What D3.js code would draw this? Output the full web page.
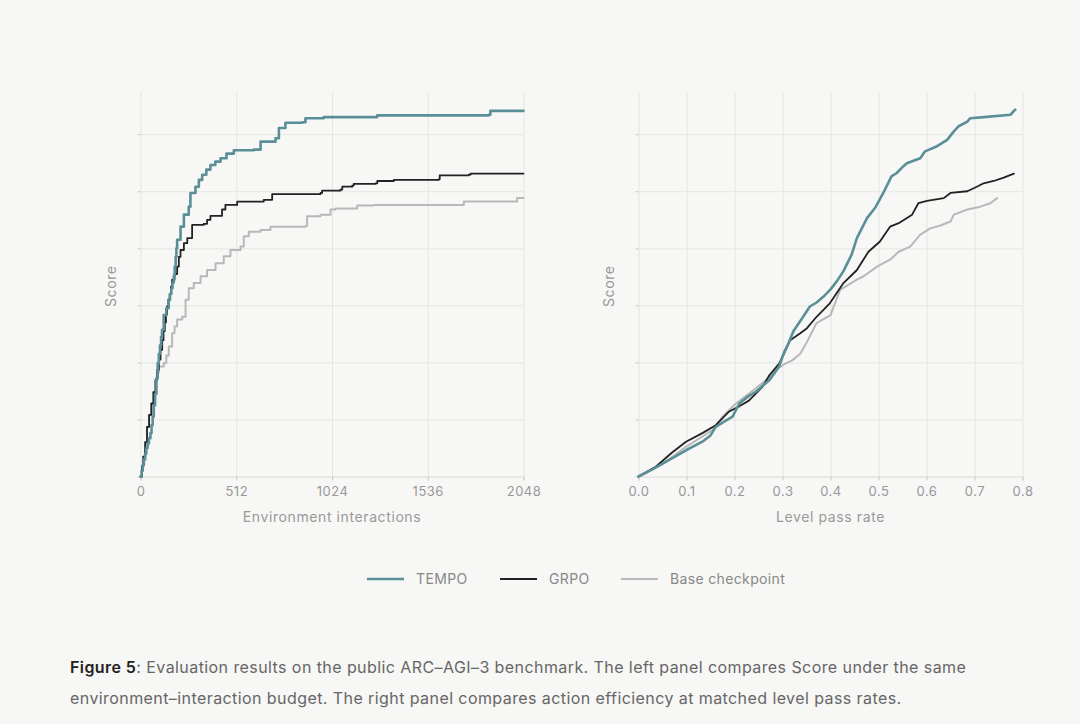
<!DOCTYPE html>
<html>
<head>
<meta charset="utf-8">
<script src="https://cdn.jsdelivr.net/npm/d3@7"></script>
<style>
  html, body { margin: 0; padding: 0; background: #f7f7f5; }
  svg { display: block; font-family: Inter, "Noto Sans", sans-serif; }
</style>
</head>
<body>
<div id="chart"></div>
<script>
// series names + colours for the legend
const seriesNames = ['TEMPO', 'GRPO', 'Base checkpoint'];
const seriesColors = ['#5b8f98', '#222222', '#b8b8b8'];
const seriesWidths = [2.6, 1.8, 2.0];

// left panel: [environment interactions, score]
const tempoBudget = [[0,0],[6,0.1],[12,0.2],[18,0.3],[25,0.4],[31,0.5],[38,0.58],[45,0.67],[53,0.76],[59,0.9],[65,1.05],[71,1.25],[78,1.45],[85,1.72],[92,1.99],[98,2.15],[104,2.3],[110,2.45],[115,2.57],[124,2.83],[138,2.95],[151,3.1],[158,3.2],[165,3.3],[171,3.4],[178,3.51],[183,3.68],[188,3.85],[192,4.0],[196,4.15],[214,4.38],[232,4.59],[258,4.73],[267,4.97],[294,5.08],[312,5.2],[330,5.29],[352,5.38],[374,5.46],[400,5.52],[428,5.58],[460,5.66],[499,5.72],[606,5.73],[642,5.87],[722,5.93],[740,6.11],[775,6.2],[865,6.21],[882,6.28],[980,6.3],[1266,6.33],[1862,6.34],[1871,6.41],[2048,6.41]];
const grpoBudget = [[0,0],[8,0.18],[15,0.35],[25,0.6],[35,0.87],[46,1.08],[58,1.28],[69,1.48],[80,1.69],[89,1.87],[98,2.05],[107,2.22],[116,2.39],[123,2.55],[130,2.7],[136,2.84],[142,2.98],[149,3.1],[156,3.2],[163,3.33],[169,3.45],[182,3.55],[196,3.68],[205,3.85],[214,3.97],[232,4.09],[250,4.18],[276,4.41],[338,4.43],[356,4.5],[374,4.57],[436,4.68],[454,4.76],[517,4.82],[659,4.85],[704,4.95],[963,4.97],[971,5.01],[1069,5.03],[1079,5.08],[1132,5.1],[1140,5.13],[1257,5.14],[1266,5.18],[1355,5.2],[1595,5.21],[1600,5.28],[1755,5.29],[1765,5.31],[2048,5.31]];
const baseBudget = [[0,0],[8,0.18],[15,0.35],[25,0.6],[35,0.87],[46,1.08],[58,1.28],[69,1.48],[80,1.69],[89,1.82],[98,1.93],[124,1.99],[138,2.12],[151,2.28],[169,2.51],[182,2.63],[196,2.75],[223,2.8],[241,3.1],[258,3.3],[285,3.39],[321,3.51],[356,3.62],[401,3.74],[445,3.86],[481,3.97],[535,4.03],[552,4.21],[579,4.29],[642,4.32],[695,4.38],[882,4.39],[891,4.56],[963,4.59],[1016,4.68],[1043,4.7],[1159,4.75],[1248,4.76],[1711,4.76],[1729,4.82],[2005,4.82],[2014,4.88],[2048,4.88]];

// right panel: [level pass rate, score]
const tempoRate = [[0,0],[0.03,0.13],[0.064,0.29],[0.099,0.46],[0.133,0.61],[0.15,0.72],[0.161,0.87],[0.18,0.97],[0.196,1.05],[0.21,1.28],[0.228,1.4],[0.245,1.49],[0.26,1.6],[0.273,1.69],[0.293,1.93],[0.302,2.15],[0.313,2.35],[0.323,2.55],[0.343,2.8],[0.357,2.98],[0.371,3.05],[0.385,3.15],[0.4,3.28],[0.413,3.42],[0.427,3.6],[0.444,3.89],[0.455,4.18],[0.476,4.53],[0.493,4.71],[0.51,4.97],[0.527,5.26],[0.538,5.32],[0.552,5.44],[0.559,5.49],[0.587,5.58],[0.597,5.7],[0.622,5.79],[0.643,5.9],[0.657,6.05],[0.667,6.14],[0.685,6.22],[0.691,6.28],[0.72,6.3],[0.775,6.34],[0.782,6.41],[0.785,6.43]];
const grpoRate = [[0,0],[0.036,0.17],[0.07,0.42],[0.099,0.61],[0.133,0.76],[0.161,0.9],[0.189,1.14],[0.21,1.23],[0.23,1.33],[0.259,1.58],[0.273,1.78],[0.293,1.98],[0.302,2.13],[0.316,2.39],[0.337,2.51],[0.351,2.6],[0.371,2.8],[0.399,3.04],[0.427,3.39],[0.455,3.62],[0.479,3.94],[0.503,4.12],[0.524,4.38],[0.542,4.44],[0.57,4.59],[0.583,4.79],[0.601,4.83],[0.636,4.88],[0.65,4.97],[0.685,5.0],[0.705,5.08],[0.719,5.14],[0.74,5.18],[0.761,5.24],[0.782,5.31]];
const baseRate = [[0,0],[0.05,0.22],[0.099,0.52],[0.155,0.82],[0.175,1.05],[0.203,1.28],[0.231,1.46],[0.266,1.69],[0.286,1.87],[0.302,1.96],[0.321,2.04],[0.337,2.15],[0.351,2.36],[0.371,2.69],[0.4,2.83],[0.42,3.27],[0.455,3.45],[0.469,3.51],[0.497,3.68],[0.524,3.8],[0.542,3.94],[0.566,4.03],[0.587,4.24],[0.608,4.35],[0.629,4.4],[0.65,4.47],[0.657,4.59],[0.685,4.68],[0.712,4.73],[0.733,4.79],[0.747,4.88]];

// ticks
const budgetTicks = [0, 512, 1024, 1536, 2048];
const rateTicks = [0, 0.1, 0.2, 0.3, 0.4, 0.5, 0.6, 0.7, 0.8];
const scoreTicks = [0, 1, 2, 3, 4, 5, 6];

const width = 1080;
const height = 724;

const svg = d3.select('#chart')
  .append('svg')
  .attr('width', width)
  .attr('height', height);

svg.append('rect').attr('width', width).attr('height', height).attr('fill', '#f7f7f5');

const plotTop = 92;
const plotBottom = 476.5;

const yScale = d3.scaleLinear().domain([0, 6.74]).range([plotBottom, plotTop]);

function drawPanel(opts) {
  const { left, right, xDomain, xTicks, xFormat, xLabel, series, curve } = opts;
  const xScale = d3.scaleLinear().domain(xDomain).range([left, right]);
  const g = svg.append('g');

  // vertical gridlines
  const xGrid = g.append('g')
    .attr('transform', `translate(0, ${plotBottom})`)
    .call(d3.axisBottom(xScale).tickValues(xTicks).tickSizeInner(-(plotBottom - plotTop)).tickSizeOuter(0).tickFormat(''));
  xGrid.select('.domain').remove();
  xGrid.selectAll('line').attr('stroke', '#e5e5e3');

  // horizontal gridlines
  const yGrid = g.append('g')
    .attr('transform', `translate(${left}, 0)`)
    .call(d3.axisLeft(yScale).tickValues(scoreTicks).tickSizeInner(-(right - left)).tickSizeOuter(0).tickFormat(''));
  yGrid.select('.domain').remove();
  yGrid.selectAll('line').attr('stroke', '#e5e5e3');

  // small tick marks on the score axis, no labels
  const yTickMarks = g.append('g')
    .attr('transform', `translate(${left}, 0)`)
    .call(d3.axisLeft(yScale).tickValues(scoreTicks).tickSize(3).tickFormat(''));
  yTickMarks.select('.domain').remove();
  yTickMarks.selectAll('line').attr('stroke', '#c8c8c8');

  const xTickAxis = g.append('g')
    .attr('transform', `translate(0, ${plotBottom})`)
    .call(d3.axisBottom(xScale).tickValues(xTicks).tickSize(4).tickPadding(6).tickFormat(xFormat));
  xTickAxis.select('.domain').attr('stroke', '#e2e2e0');
  xTickAxis.selectAll('line').attr('stroke', '#c8c8c8');
  xTickAxis.selectAll('text')
    .attr('fill', '#999')
    .style('font-size', '13px')
    .style('letter-spacing', '0.5px')
    .style('font-family', 'Inter, "Noto Sans", sans-serif');

  g.append('text')
    .attr('x', (left + right) / 2)
    .attr('y', 522)
    .attr('text-anchor', 'middle')
    .attr('fill', '#999')
    .style('font-size', '14px')
    .style('letter-spacing', '0.6px')
    .text(xLabel);

  g.append('text')
    .attr('transform', `translate(${left - 25}, ${(plotTop + plotBottom) / 2 + 2}) rotate(-90)`)
    .attr('text-anchor', 'middle')
    .attr('fill', '#999')
    .style('font-size', '14px')
    .style('letter-spacing', '0.6px')
    .text('Score');

  const line = d3.line()
    .x((d) => xScale(d[0]))
    .y((d) => yScale(d[1]))
    .curve(curve);

  // draw base first, tempo on top
  [2, 1, 0].forEach((i) => {
    g.append('path')
      .datum(series[i])
      .attr('fill', 'none')
      .attr('stroke', seriesColors[i])
      .attr('stroke-width', seriesWidths[i])
      .attr('stroke-linejoin', 'round')
      .attr('stroke-linecap', 'round')
      .attr('d', line);
  });
}

drawPanel({
  left: 140.5, right: 523.5,
  xDomain: [0, 2048], xTicks: budgetTicks, xFormat: d3.format('d'),
  xLabel: 'Environment interactions',
  series: [tempoBudget, grpoBudget, baseBudget],
  curve: d3.curveStepAfter,
});

drawPanel({
  left: 638.5, right: 1022.5,
  xDomain: [0, 0.8], xTicks: rateTicks, xFormat: d3.format('.1f'),
  xLabel: 'Level pass rate',
  series: [tempoRate, grpoRate, baseRate],
  curve: d3.curveLinear,
});

// legend
const legendX = [367, 500, 621];
const legend = svg.append('g');
seriesNames.forEach((name, i) => {
  legend.append('line')
    .attr('x1', legendX[i]).attr('x2', legendX[i] + 37)
    .attr('y1', 579).attr('y2', 579)
    .attr('stroke', seriesColors[i])
    .attr('stroke-width', seriesWidths[i]);
  legend.append('text')
    .attr('x', legendX[i] + 49)
    .attr('y', 584)
    .attr('fill', '#888')
    .style('font-size', '14px')
    .style('letter-spacing', '0.35px')
    .text(name);
});

// caption
const caption = svg.append('g').style('font-size', '16px').style('letter-spacing', '0.42px').attr('fill', '#666');
const line1 = caption.append('text').attr('x', 70).attr('y', 673);
line1.append('tspan').attr('fill', '#222').attr('font-weight', 600).text('Figure 5');
line1.append('tspan').text(': Evaluation results on the public ARC\u2013AGI\u20133 benchmark. The left panel compares Score under the same');
caption.append('text').attr('x', 70).attr('y', 704)
  .text('environment\u2013interaction budget. The right panel compares action efficiency at matched level pass rates.');
</script>
</body>
</html>
